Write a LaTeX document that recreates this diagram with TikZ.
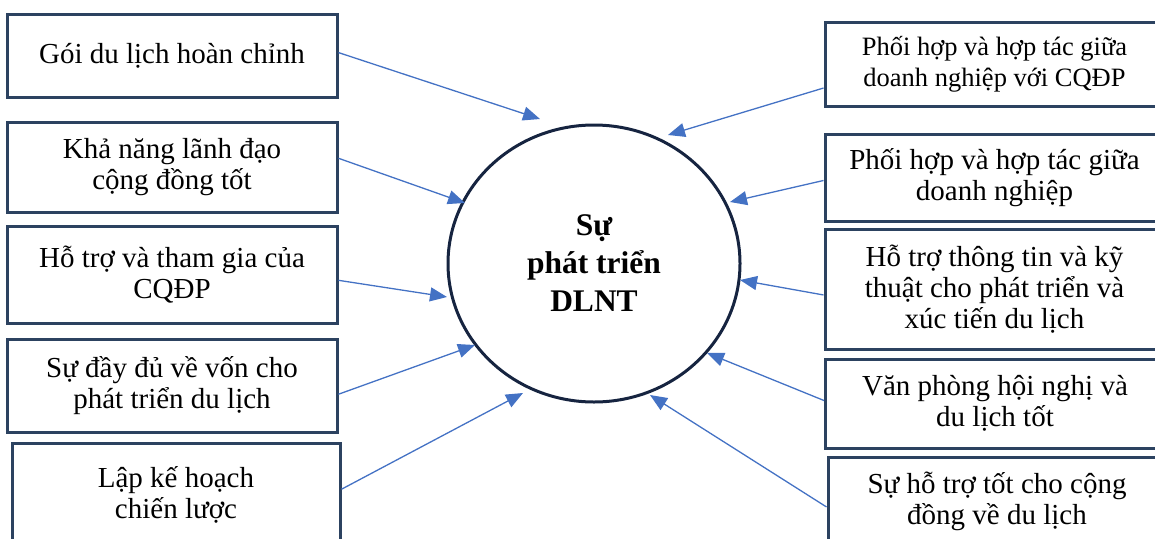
\documentclass[tikz,border=0pt]{standalone}
\usepackage{fontspec}
\setmainfont{Liberation Serif}
\usepackage{tikz}
\usetikzlibrary{arrows.meta,shapes.geometric}
\definecolor{dlBox}{RGB}{44,66,96}
\definecolor{dlRing}{RGB}{22,36,64}
\definecolor{dlArrow}{RGB}{68,114,196}
\tikzset{
    base/.style={font=\fontsize{29}{31}\selectfont, align=center},
    factor/.style={base, rectangle, draw=dlBox, line width=3pt, fill=white, inner sep=0pt},
    core/.style={ellipse, draw=dlRing, line width=3pt, fill=white, inner sep=0pt,
                 minimum width=292pt, minimum height=277pt, align=center,
                 font=\fontsize{31.5}{38}\selectfont\bfseries},
    flow/.style={-{Triangle[length=17pt, width=14pt]}, line width=1.3pt, color=dlArrow}
}
\begin{document}
\begin{tikzpicture}[x=1pt, y=-1pt]
  \useasboundingbox (0,0) rectangle (1155,538);

  % Centre
  \node[core] (dlnt) at (594,263.5) {Sự\\phát triển\\DLNT};

  % Left factors
  \node[factor, minimum width=330pt, minimum height=83pt] (goi) at (172,55.5) {Gói du lịch hoàn chỉnh};
  \node[factor, minimum width=330pt, minimum height=90pt] (lanhdao) at (172,167) {Khả năng lãnh đạo\\cộng đồng tốt};
  \node[factor, minimum width=330pt, minimum height=97pt] (cqdp) at (172,274.5) {Hỗ trợ và tham gia của\\CQĐP};
  \node[factor, minimum width=330pt, minimum height=93pt] (von) at (172,385.5) {Sự đầy đủ về vốn cho\\phát triển du lịch};
  \node[factor, minimum width=328pt, minimum height=104pt] (kehoach) at (176,495) {Lập kế hoạch\\chiến lược};

  % Right factors (cut by the page edge)
  \node[factor, minimum width=339pt, minimum height=84pt, font=\fontsize{26.5}{31}\selectfont] (dncq) at (994.5,64) {Phối hợp và hợp tác giữa\\doanh nghiệp với CQĐP};
  \node[factor, minimum width=339pt, minimum height=87pt] (dn) at (994.5,177.5) {Phối hợp và hợp tác giữa\\doanh nghiệp};
  \node[factor, minimum width=339pt, minimum height=120pt] (kythuat) at (994.5,289) {Hỗ trợ thông tin và kỹ\\thuật cho phát triển và\\xúc tiến du lịch};
  \node[factor, minimum width=339pt, minimum height=89pt] (vanphong) at (995,403.5) {Văn phòng hội nghị và\\du lịch tốt};
  \node[factor, minimum width=338pt, minimum height=88pt] (congdong) at (997,501) {Sự hỗ trợ tốt cho cộng\\đồng về du lịch};

  % Arrow tips round the centre
  \coordinate (t1) at (540,119);
  \coordinate (t2) at (465,203);
  \coordinate (t3) at (447,297);
  \coordinate (t4) at (475,345);
  \coordinate (t5) at (523,393);
  \coordinate (u1) at (668,135);
  \coordinate (u2) at (730,202);
  \coordinate (u3) at (740,280);
  \coordinate (u4) at (707,353);
  \coordinate (u5) at (650,395);

  % Arrows
  \draw[flow] (goi.1.2) -- (t1);
  \draw[flow] (lanhdao.3.1) -- (t2);
  \draw[flow] (cqdp.358.4) -- (t3);
  \draw[flow] (von.357.4) -- (t4);
  \draw[flow] (kehoach.2.1) -- (t5);
  \draw[flow] (dncq.188.4) -- (u1);
  \draw[flow] (dn.181.2) -- (u2);
  \draw[flow] (kythuat.182.4) -- (u3);
  \draw[flow] (vanphong.179.2) -- (u4);
  \draw[flow] (congdong.182.4) -- (u5);
\end{tikzpicture}
\end{document}
